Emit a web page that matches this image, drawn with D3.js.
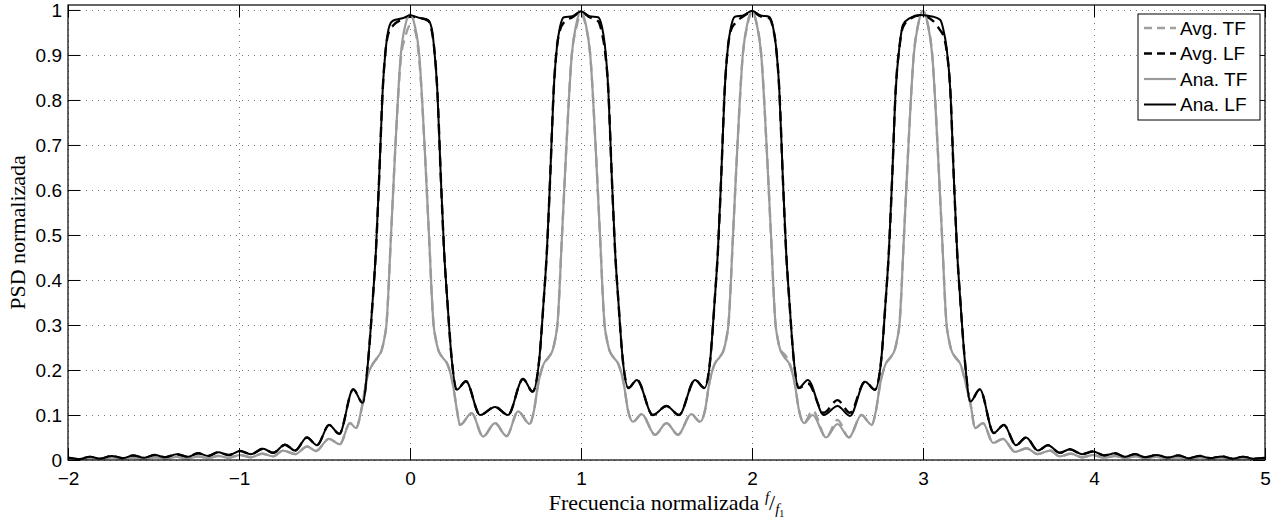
<!DOCTYPE html>
<html><head><meta charset="utf-8">
<script src="https://cdn.jsdelivr.net/npm/d3@7"></script>
<style>body{margin:0;background:#fff}svg{display:block}</style>
</head><body><svg id="c" width="1288" height="525"></svg>
<script>
// ---- data ----
const freqLF=[-2.000,-1.935,-1.871,-1.810,-1.744,-1.680,-1.620,-1.555,-1.491,-1.430,-1.365,-1.300,-1.240,-1.180,-1.123,-1.060,-0.994,-0.930,-0.859,-0.800,-0.731,-0.672,-0.603,-0.544,-0.473,-0.414,-0.332,-0.277,-0.245,-0.218,-0.200,-0.180,-0.160,-0.140,-0.120,-0.100,-0.040,0.000,0.058,0.105,0.125,0.140,0.160,0.180,0.200,0.218,0.245,0.273,0.327,0.410,0.497,0.573,0.661,0.717,0.755,0.782,0.800,0.820,0.840,0.860,0.877,0.900,0.950,1.000,1.050,1.100,1.123,1.140,1.160,1.180,1.200,1.218,1.245,1.278,1.327,1.420,1.500,1.573,1.667,1.722,1.755,1.782,1.800,1.820,1.840,1.860,1.877,1.900,1.950,2.000,2.050,2.100,2.123,2.140,2.160,2.180,2.200,2.218,2.245,2.273,2.327,2.420,2.500,2.573,2.661,2.719,2.755,2.782,2.800,2.820,2.840,2.863,2.883,2.924,2.982,3.060,3.100,3.117,3.138,3.160,3.180,3.200,3.218,3.245,3.277,3.332,3.414,3.473,3.544,3.603,3.672,3.731,3.800,3.859,3.930,3.994,4.060,4.123,4.180,4.240,4.300,4.367,4.430,4.491,4.555,4.620,4.680,4.746,4.810,4.871,4.935,5.000];
const anaLF=[0.005,0.002,0.007,0.003,0.009,0.004,0.010,0.005,0.011,0.006,0.013,0.007,0.015,0.009,0.017,0.011,0.020,0.013,0.025,0.016,0.034,0.021,0.050,0.033,0.078,0.058,0.157,0.127,0.22,0.356,0.46,0.63,0.82,0.92,0.965,0.976,0.982,0.988,0.982,0.978,0.962,0.92,0.82,0.63,0.46,0.356,0.22,0.156,0.175,0.100,0.118,0.100,0.180,0.152,0.22,0.356,0.46,0.63,0.82,0.92,0.962,0.984,0.986,0.997,0.986,0.984,0.962,0.92,0.82,0.63,0.46,0.356,0.22,0.160,0.178,0.100,0.120,0.100,0.178,0.160,0.22,0.356,0.46,0.63,0.82,0.92,0.962,0.985,0.988,0.998,0.988,0.985,0.962,0.92,0.82,0.63,0.46,0.356,0.22,0.160,0.178,0.100,0.120,0.098,0.174,0.156,0.22,0.356,0.46,0.63,0.82,0.92,0.967,0.982,0.989,0.985,0.978,0.960,0.915,0.82,0.63,0.46,0.356,0.22,0.130,0.157,0.060,0.078,0.033,0.050,0.021,0.033,0.016,0.024,0.013,0.019,0.010,0.015,0.007,0.013,0.006,0.011,0.005,0.010,0.004,0.009,0.004,0.008,0.003,0.007,0.003,0.005];
const avgLF=[0.005,0.002,0.007,0.003,0.009,0.004,0.010,0.005,0.011,0.006,0.013,0.007,0.015,0.009,0.017,0.011,0.020,0.013,0.025,0.016,0.034,0.021,0.050,0.033,0.078,0.058,0.157,0.127,0.22,0.356,0.46,0.63,0.82,0.92,0.955,0.965,0.980,0.985,0.982,0.976,0.958,0.92,0.82,0.63,0.46,0.356,0.22,0.156,0.175,0.100,0.118,0.100,0.180,0.152,0.22,0.356,0.46,0.63,0.82,0.92,0.955,0.972,0.984,0.995,0.984,0.975,0.948,0.91,0.82,0.63,0.46,0.356,0.22,0.160,0.178,0.100,0.120,0.100,0.178,0.160,0.22,0.356,0.46,0.63,0.82,0.92,0.955,0.970,0.986,0.996,0.986,0.982,0.960,0.92,0.82,0.63,0.46,0.356,0.22,0.160,0.170,0.105,0.133,0.105,0.174,0.156,0.22,0.356,0.46,0.63,0.82,0.92,0.962,0.980,0.988,0.975,0.955,0.945,0.910,0.82,0.63,0.46,0.356,0.22,0.130,0.157,0.060,0.078,0.033,0.050,0.021,0.033,0.016,0.024,0.013,0.019,0.010,0.015,0.007,0.013,0.006,0.011,0.005,0.010,0.004,0.009,0.004,0.008,0.003,0.007,0.003,0.005];
const freqTF=[-2.000,-1.935,-1.871,-1.810,-1.744,-1.680,-1.620,-1.555,-1.491,-1.430,-1.365,-1.300,-1.240,-1.180,-1.123,-1.060,-0.994,-0.930,-0.865,-0.800,-0.743,-0.670,-0.602,-0.550,-0.474,-0.410,-0.351,-0.316,-0.280,-0.250,-0.220,-0.190,-0.165,-0.150,-0.138,-0.111,-0.085,-0.054,-0.028,0.000,0.028,0.054,0.085,0.111,0.138,0.150,0.165,0.190,0.220,0.250,0.275,0.292,0.361,0.427,0.497,0.565,0.632,0.700,0.725,0.750,0.780,0.810,0.835,0.850,0.862,0.889,0.915,0.946,0.972,1.000,1.028,1.054,1.085,1.111,1.138,1.150,1.165,1.190,1.220,1.250,1.275,1.304,1.355,1.433,1.500,1.567,1.645,1.696,1.725,1.750,1.780,1.810,1.835,1.850,1.862,1.889,1.915,1.946,1.972,2.000,2.028,2.054,2.085,2.111,2.138,2.150,2.165,2.190,2.220,2.250,2.275,2.304,2.355,2.433,2.500,2.567,2.640,2.700,2.725,2.750,2.780,2.810,2.835,2.850,2.862,2.889,2.915,2.946,2.972,3.000,3.028,3.054,3.085,3.111,3.138,3.150,3.165,3.190,3.220,3.250,3.280,3.304,3.351,3.410,3.468,3.538,3.606,3.670,3.743,3.800,3.865,3.930,3.994,4.060,4.123,4.180,4.240,4.300,4.367,4.430,4.491,4.555,4.620,4.680,4.746,4.810,4.871,4.935,5.000];
const anaTF=[0.003,0.001,0.004,0.002,0.005,0.002,0.005,0.002,0.006,0.003,0.007,0.003,0.008,0.004,0.009,0.005,0.011,0.006,0.014,0.008,0.021,0.013,0.030,0.020,0.047,0.035,0.082,0.071,0.12,0.185,0.212,0.228,0.245,0.27,0.30,0.50,0.70,0.90,0.965,0.990,0.965,0.90,0.70,0.50,0.30,0.27,0.245,0.228,0.212,0.17,0.11,0.078,0.104,0.052,0.082,0.053,0.108,0.080,0.11,0.17,0.212,0.228,0.245,0.27,0.30,0.50,0.70,0.90,0.968,0.997,0.968,0.90,0.70,0.50,0.30,0.27,0.245,0.228,0.212,0.17,0.11,0.085,0.102,0.056,0.082,0.056,0.102,0.085,0.11,0.17,0.212,0.228,0.245,0.27,0.30,0.50,0.70,0.90,0.968,0.998,0.968,0.90,0.70,0.50,0.30,0.27,0.245,0.228,0.212,0.17,0.11,0.082,0.100,0.050,0.080,0.050,0.100,0.078,0.11,0.17,0.212,0.228,0.245,0.27,0.30,0.50,0.70,0.90,0.968,0.998,0.968,0.90,0.70,0.50,0.30,0.27,0.245,0.228,0.212,0.17,0.12,0.071,0.082,0.038,0.047,0.018,0.026,0.013,0.021,0.008,0.014,0.006,0.011,0.005,0.009,0.004,0.008,0.003,0.007,0.003,0.006,0.002,0.005,0.002,0.005,0.002,0.004,0.001,0.003];
const avgTF=[0.003,0.001,0.004,0.002,0.005,0.002,0.005,0.002,0.006,0.003,0.007,0.003,0.008,0.004,0.009,0.005,0.011,0.006,0.014,0.008,0.021,0.013,0.030,0.020,0.047,0.035,0.082,0.071,0.12,0.185,0.212,0.228,0.245,0.27,0.30,0.50,0.70,0.89,0.940,0.965,0.955,0.89,0.70,0.50,0.30,0.27,0.245,0.228,0.212,0.17,0.11,0.078,0.104,0.052,0.082,0.053,0.108,0.080,0.11,0.17,0.212,0.228,0.245,0.27,0.30,0.50,0.70,0.90,0.960,0.990,0.965,0.90,0.70,0.50,0.30,0.27,0.245,0.228,0.212,0.17,0.11,0.085,0.102,0.056,0.082,0.056,0.102,0.085,0.11,0.17,0.212,0.228,0.245,0.27,0.30,0.50,0.70,0.90,0.965,0.995,0.968,0.90,0.70,0.50,0.30,0.27,0.245,0.235,0.215,0.17,0.11,0.082,0.110,0.050,0.089,0.050,0.100,0.078,0.11,0.17,0.212,0.228,0.245,0.27,0.30,0.50,0.70,0.90,0.968,0.998,0.968,0.90,0.70,0.50,0.30,0.27,0.245,0.228,0.212,0.17,0.12,0.071,0.082,0.038,0.047,0.018,0.026,0.013,0.021,0.008,0.014,0.006,0.011,0.005,0.009,0.004,0.008,0.003,0.007,0.003,0.006,0.002,0.005,0.002,0.005,0.002,0.004,0.001,0.003];
const xTicks=[-2,-1,0,1,2,3,4,5];
const yTicks=[0,0.1,0.2,0.3,0.4,0.5,0.6,0.7,0.8,0.9,1];
const yTickLabels=["0","0.1","0.2","0.3","0.4","0.5","0.6","0.7","0.8","0.9","1"];
const legendLabels=["Avg. TF","Avg. LF","Ana. TF","Ana. LF"];

// ---- drawing ----
const svg=d3.select("#c");
const L=68,R=1265,T=5,B=460;
const x=d3.scaleLinear().domain([-2,5]).range([L,R]);
const y=d3.scaleLinear().domain([0,1.011]).range([B,T]);
const sans="'Liberation Sans', Arial, Helvetica, sans-serif";
const serif="'Liberation Serif', 'Times New Roman', serif";
const FS=19;

// grid
const grid=svg.append("g").attr("stroke","#777").attr("stroke-width",1).attr("stroke-dasharray","1,5");
grid.selectAll(".gx").data(xTicks).join("line").attr("x1",d=>Math.round(x(d))+0.5).attr("x2",d=>Math.round(x(d))+0.5).attr("y1",T).attr("y2",B);
grid.selectAll(".gy").data(yTicks).join("line").attr("y1",d=>Math.round(y(d))+0.5).attr("y2",d=>Math.round(y(d))+0.5).attr("x1",L).attr("x2",R);

// series
svg.append("clipPath").attr("id","clip").append("rect").attr("x",L).attr("y",T).attr("width",R-L).attr("height",B-T);
const plot=svg.append("g").attr("clip-path","url(#clip)");
const mk=(fx,fy)=>d3.line().x((d,i)=>x(fx[i])).y(d=>y(d)).curve(d3.curveMonotoneX);
const series=[
  {fx:freqTF,v:avgTF,color:"#a0a0a0",dash:"10,6",w:2.4},
  {fx:freqLF,v:avgLF,color:"#000",dash:"10,6",w:2.4},
  {fx:freqTF,v:anaTF,color:"#9a9a9a",dash:null,w:2.2},
  {fx:freqLF,v:anaLF,color:"#000",dash:null,w:2}
];
series.forEach(s=>{
  plot.append("path").attr("d",mk(s.fx,s.v)(s.v)).attr("fill","none")
   .attr("stroke",s.color).attr("stroke-width",s.w).attr("stroke-dasharray",s.dash)
   .attr("stroke-linejoin","round");
});

// axes
const gb=svg.append("g").attr("transform",`translate(0,${B})`)
  .call(d3.axisBottom(x).tickValues(xTicks).tickSizeInner(-12).tickSizeOuter(0).tickPadding(12).tickFormat(d3.format("d")));
const gt=svg.append("g").attr("transform",`translate(0,${T})`)
  .call(d3.axisTop(x).tickValues(xTicks).tickSizeInner(-12).tickSizeOuter(0).tickFormat(""));
const gl=svg.append("g").attr("transform",`translate(${L},0)`)
  .call(d3.axisLeft(y).tickValues(yTicks).tickSizeInner(-12).tickSizeOuter(0).tickPadding(6).tickFormat((d,i)=>yTickLabels[i]));
const gr=svg.append("g").attr("transform",`translate(${R},0)`)
  .call(d3.axisRight(y).tickValues(yTicks).tickSizeInner(-12).tickSizeOuter(0).tickFormat(""));
[gb,gt,gl,gr].forEach(g=>{
  g.select(".domain").remove();
  g.selectAll("line").attr("stroke","#000");
  g.selectAll("text").attr("font-family",sans).attr("font-size",FS).attr("fill","#000");
});
svg.append("rect").attr("x",L).attr("y",T).attr("width",R-L).attr("height",B-T)
  .attr("fill","none").attr("stroke","#000").attr("stroke-width",1.2);

// axis labels
const xl=svg.append("text").attr("x",(L+R)/2).attr("y",510).attr("text-anchor","middle")
  .attr("font-family",serif).attr("font-size",22).attr("fill","#000");
xl.append("tspan").text("Frecuencia normalizada ");
xl.append("tspan").attr("font-style","italic").attr("font-size",15).attr("dy",-8).text("f");
xl.append("tspan").attr("font-size",22).attr("dy",8).text("/");
xl.append("tspan").attr("font-style","italic").attr("font-size",15).attr("dy",4).text("f");
xl.append("tspan").attr("font-size",10).attr("dy",3).text("1");
svg.append("text").attr("transform",`translate(25,${(T+B)/2}) rotate(-90)`).attr("text-anchor","middle")
  .attr("font-family",serif).attr("font-size",22).attr("fill","#000").text("PSD normalizada");

// legend
const lx=1138,ly=14,lw=122,rowH=25.5;
const lg=svg.append("g");
lg.append("rect").attr("x",lx).attr("y",ly).attr("width",lw).attr("height",rowH*4+4)
  .attr("fill","#fff").attr("stroke","#000").attr("stroke-width",1);
legendLabels.forEach((lab,i)=>{
  const s=series[i], cy=ly+14+i*rowH;
  lg.append("line").attr("x1",lx+6).attr("x2",lx+38).attr("y1",cy).attr("y2",cy)
    .attr("stroke",s.color).attr("stroke-width",s.w).attr("stroke-dasharray",s.dash?"8,5":null);
  lg.append("text").attr("x",lx+42).attr("y",cy).attr("dy","0.35em")
    .attr("font-family",sans).attr("font-size",FS).text(lab);
});
</script></body></html>
